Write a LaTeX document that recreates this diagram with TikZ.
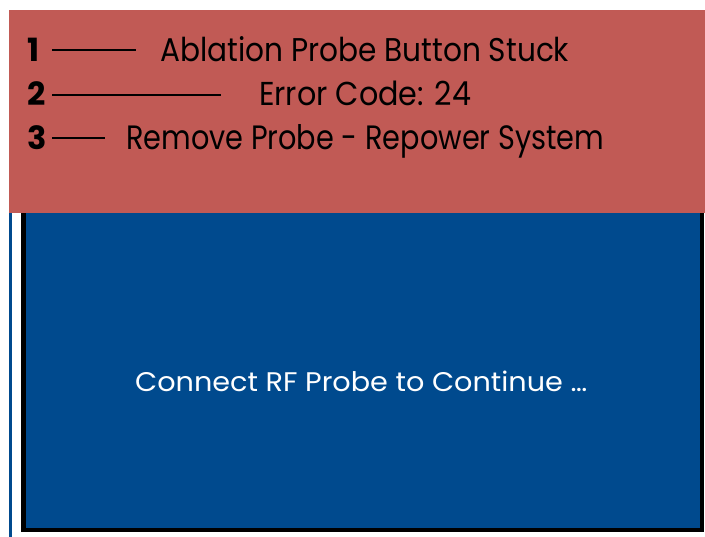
\documentclass[tikz,border=0pt]{standalone}
\usepackage{fontspec}
\setmainfont{Poppins}
\definecolor{panelred}{HTML}{C15A55}
\definecolor{panelblue}{HTML}{004A8E}
% set a text run to an exact width and height above the baseline
\newcommand{\fitbox}[3]{\resizebox{#1}{#2}{#3}}
\begin{document}
\begin{tikzpicture}[x=1pt,y=-1pt,
  msg/.style={anchor=base west,inner sep=0pt,text=black,font=\fontsize{30}{36}\selectfont},
  num/.style={anchor=base west,inner sep=0pt,text=black,font=\fontsize{32}{36}\selectfont\bfseries},
  leader/.style={line width=2.2pt,black},
  screentext/.style={anchor=base west,inner sep=0pt,text=white,font=\fontsize{26}{32}\selectfont}]
\useasboundingbox (0,0) rectangle (705,537);
\fill[white] (0,0) rectangle (705,537);
% thin blue edge at the left
\fill[panelblue] (9,213) rectangle (12.3,537);
% display screen with black frame
\draw[line width=4.6pt,fill=panelblue] (23.2,150) rectangle (702,530);
% header panel
\fill[panelred] (9,10) rectangle (705,213.3);
% numbered messages
\node[num] (n1) at (27,62) {1};
\node[num] (n2) at (27,106) {2};
\node[num] (n3) at (27,150) {3};
\node[msg] (t1) at (160,62) {\fitbox{409pt}{25pt}{Ablation Probe Button Stuck}};
\node[msg] (t2) at (259,106) {\fitbox{212pt}{24.5pt}{Error Code: 24}};
\node[msg] (t3) at (126,150) {\fitbox{478pt}{25pt}{Remove Probe - Repower System}};
\coordinate (l1a) at (52,50);   \coordinate (l1b) at (136,50);
\coordinate (l2a) at (52,94.7); \coordinate (l2b) at (221,94.7);
\coordinate (l3a) at (52,138.3);\coordinate (l3b) at (105,138.3);
\draw[leader] (l1a) -- (l1b);
\draw[leader] (l2a) -- (l2b);
\draw[leader] (l3a) -- (l3b);
% screen prompt
\node[screentext] (prompt) at (135,392) {\fitbox{452pt}{20.5pt}{Connect RF Probe to Continue \dots}};
\end{tikzpicture}
\end{document}
